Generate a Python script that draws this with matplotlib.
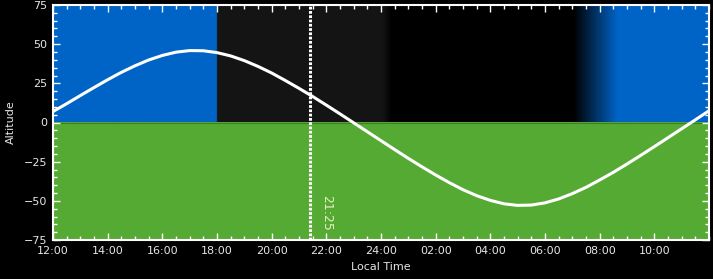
import numpy as np
import matplotlib
matplotlib.use("Agg")
import matplotlib.pyplot as plt
from matplotlib.ticker import MultipleLocator, FuncFormatter
from matplotlib.colors import to_rgb

# ---- data ----
hours = [12.0, 12.5, 13.0, 13.5, 14.0, 14.5, 15.0, 15.5, 16.0, 16.5, 17.0, 17.5,
         18.0, 18.5, 19.0, 19.5, 20.0, 20.5, 21.0, 21.5, 22.0, 22.5, 23.0, 23.5,
         24.0, 24.5, 25.0, 25.5, 26.0, 26.5, 27.0, 27.5, 28.0, 28.5, 29.0, 29.5,
         30.0, 30.5, 31.0, 31.5, 32.0, 32.5, 33.0, 33.5, 34.0, 34.5, 35.0, 35.5, 36.0]
altitude = [7.0, 12.0, 17.2, 22.3, 27.3, 32.0, 36.2, 39.9, 42.8, 44.9, 45.9, 45.8,
            44.6, 42.5, 39.5, 35.8, 31.6, 26.8, 21.8, 16.6, 11.1, 5.5, -0.2, -5.9,
            -11.6, -17.3, -22.9, -28.3, -33.5, -38.4, -42.9, -46.7, -49.7, -51.9, -52.9, -52.7,
            -51.3, -48.8, -45.4, -41.4, -36.7, -31.8, -26.5, -21.0, -15.4, -9.7, -4.0, 1.7, 7.5]

sky_stops = [12.0, 18.0, 18.001, 24.05, 24.4, 31.05, 32.65, 36.0]
sky_colors = ['#0063c6', '#0063c6', '#141414', '#141414', '#000000', '#000000', '#0063c6', '#0063c6']
ground_color = '#55aa33'

now_time = 21 + 25 / 60
now_label = '21:25'

xticks = [12, 14, 16, 18, 20, 22, 24, 26, 28, 30, 32, 34]

# ---- figure ----
fig = plt.figure(figsize=(7.13, 2.79), dpi=100, facecolor='black')
ax = fig.add_axes([53 / 713, 1 - 240 / 279, (709 - 53) / 713, 235 / 279])
ax.set_facecolor('black')
ax.set_xlim(12, 36)
ax.set_ylim(-75, 75)

# sky gradient (upper half)
grid_t = np.linspace(12, 36, 2000)
rgb = np.array([to_rgb(c) for c in sky_colors])
img = np.stack([np.interp(grid_t, sky_stops, rgb[:, k]) for k in range(3)], axis=-1)[None, :, :]
ax.imshow(img, extent=[12, 36, 0, 75], aspect='auto', interpolation='bilinear', zorder=0)
ax.axhspan(-75, 0, color=ground_color, lw=0, zorder=0.5)
ax.axhline(0, color='#3b7d2a', lw=0.8, zorder=0.6)

ax.plot(hours, altitude, color='white', lw=2.2, zorder=3, solid_capstyle='round')

ax.axvline(now_time, color='white', lw=2.2, linestyle=(0, (0.9, 0.5)),
           dash_capstyle='butt', zorder=4)
ax.text(22.0, -58, now_label, rotation=270, color='#e8f0c4', fontsize=9,
        ha='center', va='center', zorder=5)

ax.set_aspect('auto')
ax.xaxis.set_major_locator(plt.FixedLocator(xticks))
ax.xaxis.set_minor_locator(MultipleLocator(0.5))
ax.xaxis.set_major_formatter(FuncFormatter(lambda v, p: f"{int(v) % 24:02d}:00" if v < 24.5 or int(v) % 24 else "24:00"))
ax.set_xticklabels([("24:00" if t == 24 else f"{t % 24:02d}:00") for t in xticks])
ax.yaxis.set_major_locator(MultipleLocator(25))
ax.yaxis.set_minor_locator(MultipleLocator(5))

ax.tick_params(which='both', direction='in', colors='white', top=True, right=True,
               labelcolor='#e6e6e6', labelsize=8, width=1)
ax.tick_params(which='major', length=5, pad=4)
ax.tick_params(which='minor', length=3)
for s in ax.spines.values():
    s.set_color('white')
    s.set_linewidth(1.5)

ax.set_xlabel('Local Time', color='#e6e6e6', fontsize=8, labelpad=5)
ax.set_ylabel('Altitude', color='#e6e6e6', fontsize=8, labelpad=6)

fig.savefig('out.png', dpi=100, facecolor='black')
